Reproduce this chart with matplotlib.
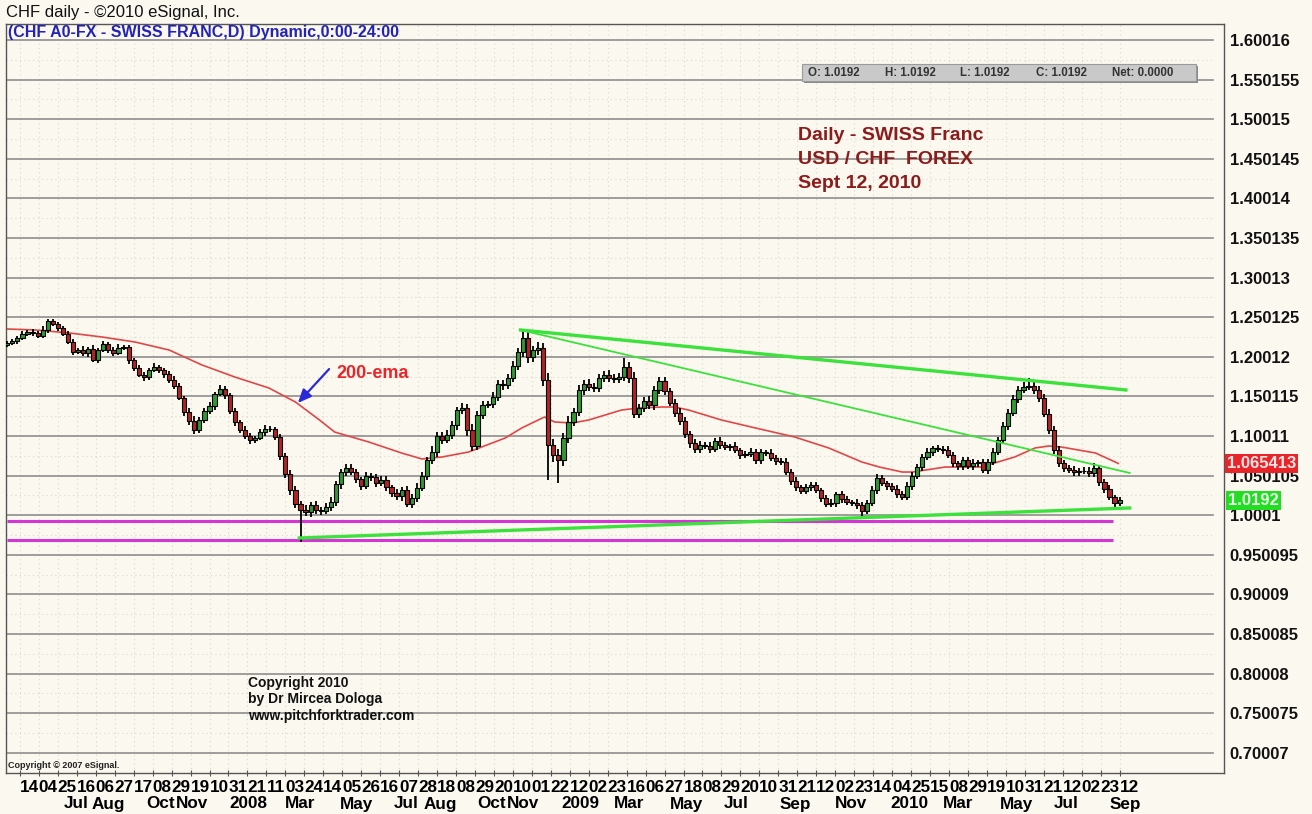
import numpy as np
import pandas as pd
import matplotlib
matplotlib.use('Agg')
import matplotlib.pyplot as plt
from matplotlib.patches import Rectangle

plt.rcParams['font.family'] = ['Liberation Sans', 'DejaVu Sans']

W, H = 1312, 814

# ------------------------------------------------------------------ data
origin = '2007-04-23'          # business-day origin of the x axis
first_candle = '2007-04-30'
candle_step = 4                # business days per candle
first_open = 1.2150

closes = [
    1.2175, 1.2201, 1.2239, 1.2289, 1.2314, 1.2302, 1.2264, 1.2340, 1.2453, 1.2415,
    1.2365, 1.2289, 1.2188, 1.2062, 1.2087, 1.2049, 1.2100, 1.1961, 1.2087, 1.2163,
    1.2087, 1.2049, 1.2112, 1.2125, 1.1961, 1.1860, 1.1771, 1.1746, 1.1834, 1.1872,
    1.1834, 1.1784, 1.1708, 1.1632, 1.1481, 1.1304, 1.1190, 1.1077, 1.1203, 1.1317,
    1.1380, 1.1531, 1.1594, 1.1519, 1.1317, 1.1178, 1.1077, 1.1001, 1.0950, 1.0976,
    1.1051, 1.1089, 1.1095, 1.0988, 1.0748, 1.0521, 1.0319, 1.0142, 1.0066, 1.0041,
    1.0129, 1.0066, 1.0054, 1.0104, 1.0167, 1.0395, 1.0546, 1.0597, 1.0546, 1.0458,
    1.0369, 1.0496, 1.0483, 1.0407, 1.0445, 1.0357, 1.0281, 1.0243, 1.0319, 1.0142,
    1.0218, 1.0344, 1.0496, 1.0698, 1.0799, 1.1001, 1.0950, 1.1014, 1.1140, 1.1329,
    1.1355, 1.1077, 1.0875, 1.1266, 1.1392, 1.1405, 1.1493, 1.1657, 1.1645, 1.1733,
    1.1885, 1.2062, 1.2239, 1.1999, 1.2087, 1.2112, 1.1708, 1.0887, 1.0761, 1.0698,
    1.0976, 1.1178, 1.1304, 1.1582, 1.1657, 1.1619, 1.1607, 1.1733, 1.1771, 1.1733,
    1.1721, 1.1746, 1.1872, 1.1733, 1.1279, 1.1355, 1.1443, 1.1392, 1.1582, 1.1695,
    1.1569, 1.1418, 1.1291, 1.1190, 1.1026, 1.0913, 1.0837, 1.0887, 1.0875, 1.0837,
    1.0938, 1.0887, 1.0862, 1.0870, 1.0824, 1.0761, 1.0774, 1.0799, 1.0698, 1.0799,
    1.0786, 1.0723, 1.0685, 1.0673, 1.0546, 1.0433, 1.0357, 1.0306, 1.0357, 1.0382,
    1.0319, 1.0218, 1.0142, 1.0155, 1.0268, 1.0205, 1.0167, 1.0155, 1.0129, 1.0054,
    1.0155, 1.0319, 1.0471, 1.0407, 1.0369, 1.0332, 1.0268, 1.0230, 1.0369, 1.0496,
    1.0609, 1.0736, 1.0799, 1.0849, 1.0840, 1.0824, 1.0761, 1.0660, 1.0622, 1.0698,
    1.0622, 1.0660, 1.0673, 1.0571, 1.0673, 1.0799, 1.0950, 1.1127, 1.1291, 1.1468,
    1.1582, 1.1619, 1.1632, 1.1582, 1.1481, 1.1279, 1.1077, 1.0824, 1.0660, 1.0597,
    1.0571, 1.0546, 1.0559, 1.0565, 1.0534, 1.0597, 1.0420, 1.0332, 1.0230, 1.0155,
    1.0192,
]

# upper / lower wick lengths in pips (0.0001)
wick_hi = [
    25, 30, 20, 35, 25, 40, 30, 45, 30, 25, 30, 20, 35, 40, 25, 50, 30, 45, 25, 40,
    30, 35, 45, 20, 30, 25, 40, 35, 30, 45, 25, 30, 35, 50, 40, 30, 45, 60, 35, 40,
    45, 30, 50, 35, 25, 40, 30, 45, 35, 30, 40, 55, 30, 25, 35, 40, 50, 45, 35, 60,
    40, 50, 35, 45, 60, 40, 35, 50, 45, 40, 30, 55, 40, 35, 45, 50, 30, 45, 40, 55,
    45, 60, 50, 40, 70, 55, 45, 60, 50, 40, 65, 55, 70, 45, 50, 40, 60, 55, 45, 50,
    60, 55, 101, 70, 50, 80, 60, 90, 70, 80, 60, 75, 55, 65, 50, 60, 45, 55, 50, 60,
    45, 50, 114, 60, 70, 55, 50, 60, 45, 55, 50, 40, 45, 60, 50, 40, 55, 45, 40, 50,
    35, 45, 40, 35, 50, 30, 40, 45, 35, 40, 30, 45, 35, 40, 50, 35, 45, 30, 40, 35,
    40, 30, 35, 45, 30, 40, 35, 30, 45, 40, 35, 50, 45, 40, 30, 35, 45, 40, 50, 45,
    40, 35, 45, 30, 40, 35, 45, 40, 30, 35, 40, 45, 30, 40, 35, 50, 40, 45, 55, 50,
    45, 60, 100, 50, 45, 55, 60, 50, 45, 40, 35, 45, 40, 50, 45, 60, 40, 35, 45, 30, 40,
]
wick_lo = [
    30, 25, 35, 20, 30, 35, 25, 30, 40, 25, 35, 30, 25, 40, 30, 35, 45, 30, 35, 25,
    35, 40, 30, 25, 45, 35, 30, 50, 35, 30, 40, 45, 35, 40, 30, 45, 50, 55, 40, 35,
    40, 45, 30, 50, 35, 45, 40, 35, 50, 40, 30, 45, 40, 35, 50, 45, 60, 55, 400, 50,
    60, 45, 55, 40, 50, 45, 60, 50, 40, 55, 45, 35, 50, 45, 40, 55, 45, 50, 60, 40,
    55, 45, 40, 50, 45, 60, 50, 40, 55, 65, 45, 70, 60, 50, 45, 40, 55, 50, 60, 45,
    50, 55, 60, 70, 65, 60, 75, 442, 90, 291, 70, 60, 55, 45, 60, 50, 55, 45, 50, 55,
    50, 45, 55, 60, 50, 45, 55, 50, 60, 45, 50, 40, 55, 45, 50, 60, 45, 50, 40, 55,
    40, 45, 35, 50, 40, 45, 35, 40, 50, 45, 35, 40, 45, 35, 40, 50, 45, 40, 35, 45,
    40, 45, 35, 40, 50, 45, 40, 35, 45, 76, 40, 35, 45, 40, 50, 35, 45, 40, 35, 45,
    40, 45, 35, 50, 40, 45, 40, 50, 45, 55, 40, 45, 50, 40, 45, 35, 40, 45, 50, 40,
    45, 40, 35, 45, 50, 40, 45, 55, 50, 45, 40, 50, 45, 40, 50, 45, 50, 45, 40, 51, 40,
]

# 200-ema (business-day index, value)
ema_bday = [5, 27, 54, 80, 106, 133, 159, 185, 212, 233, 252, 264, 291, 317, 333,
            349, 370, 399, 412, 430, 438, 452, 465, 491, 505, 523, 533, 544, 570,
            597, 628, 655, 681, 695, 713, 721, 747, 776, 786, 802, 818, 829, 839,
            866, 884]
ema_val = [1.2352, 1.2340, 1.2302, 1.2251, 1.2188, 1.2087, 1.1898, 1.1746, 1.1607,
           1.1430, 1.1203, 1.1051, 1.0925, 1.0786, 1.0711, 1.0736, 1.0799, 1.0976,
           1.1102, 1.1241, 1.1178, 1.1165, 1.1203, 1.1329, 1.1355, 1.1367, 1.1367,
           1.1329, 1.1203, 1.1102, 1.0988, 1.0849, 1.0673, 1.0609, 1.0546, 1.0546,
           1.0609, 1.0609, 1.0660, 1.0736, 1.0849, 1.0875, 1.0862, 1.0786, 1.065413]

# trend lines (business-day index, price)
upper_line_x = [411, 890]
upper_line_y = [1.2340, 1.1582]
inner_line_x = [411, 893]
inner_line_y = [1.2340, 1.0534]
lower_line_x = [236, 893]
lower_line_y = [0.9713, 1.0092]
support_levels = [0.9928, 0.9688]
support_end = 880

ytick_vals = [1.60016, 1.550155, 1.50015, 1.450145, 1.40014, 1.350135, 1.30013,
              1.250125, 1.20012, 1.150115, 1.10011, 1.050105, 1.0001, 0.950095,
              0.90009, 0.850085, 0.80008, 0.750075, 0.70007]
ytick_labels = ['1.60016', '1.550155', '1.50015', '1.450145', '1.40014', '1.350135',
                '1.30013', '1.250125', '1.20012', '1.150115', '1.10011', '1.050105',
                '1.0001', '0.950095', '0.90009', '0.850085', '0.80008', '0.750075',
                '0.70007']

day_first = '2007-05-14'
day_labels = ['14', '04', '25', '16', '06', '27', '17', '08', '29', '19', '10', '31',
              '21', '11', '03', '24', '14', '05', '26', '16', '07', '28', '18', '08',
              '29', '20', '10', '01', '22', '12', '02', '23', '16', '06', '27', '18',
              '08', '29', '20', '10', '31', '21', '12', '02', '23', '14', '04', '25',
              '15', '08', '29', '19', '10', '31', '21', '12', '02', '23', '12']
month_labels = ['Jul', 'Aug', 'Oct', 'Nov', '2008', 'Mar', 'May', 'Jul', 'Aug', 'Oct',
                'Nov', '2009', 'Mar', 'May', 'Jul', 'Sep', 'Nov', '2010', 'Mar', 'May',
                'Jul', 'Sep']
month_dates = ['2007-07-02', '2007-08-01', '2007-10-01', '2007-11-01', '2008-01-01',
               '2008-03-03', '2008-05-01', '2008-07-01', '2008-08-01', '2008-10-01',
               '2008-11-03', '2009-01-01', '2009-03-02', '2009-05-01', '2009-07-01',
               '2009-09-01', '2009-11-02', '2010-01-01', '2010-03-01', '2010-05-03',
               '2010-07-01', '2010-09-01']

last_ema = 1.065413
last_close = 1.0192

# ------------------------------------------------------------------ helpers
def bd(d):
    return int(np.busday_count(origin, np.datetime64(d, 'D')))

def fx(x):
    return x / W

def fy(y):
    return 1 - y / H

BG = '#fbf8ef'
fig = plt.figure(figsize=(W / 100, H / 100), dpi=100, facecolor=BG)
ax = fig.add_axes([fx(6), fy(773), fx(1224) - fx(6), fy(24) - fy(773)], facecolor=BG)
ax.set_xlim(4.0, 967.6)
ax.set_ylim(0.67453, 1.62036)

for s in ax.spines.values():
    s.set_color('#555555')
    s.set_linewidth(1.0)

# grid
day_dates = pd.date_range(day_first, periods=len(day_labels), freq='21D')
day_x = np.array([bd(d.strftime('%Y-%m-%d')) for d in day_dates])
xmax_frac = (1213 - 6) / (1224 - 6)
for v in ytick_vals:
    ax.axhline(v, xmin=0, xmax=xmax_frac, color='#8e8e8e', lw=1.2, zorder=1)
mids = [(a + b) / 2 for a, b in zip(ytick_vals[:-1], ytick_vals[1:])]
for v in mids:
    ax.axhline(v, xmin=0, xmax=xmax_frac, color='#dcd8cd', lw=0.8,
               linestyle=(0, (1, 3)), zorder=0)
ax.vlines(day_x, 0.67453, 1.62036, colors='#dcd8cd', linestyles=(0, (1, 3)),
          lw=0.8, zorder=0)

# support lines
for lv in support_levels:
    ax.plot([bd(first_candle), support_end], [lv, lv], color='#d535d5', lw=2.2,
            zorder=2, solid_capstyle='butt')

# ema
ax.plot(ema_bday, ema_val, color='#e04848', lw=1.2, zorder=2)

# candles
c = np.array(closes)
o = np.r_[first_open, c[:-1]]
hi = np.maximum(o, c) + np.array(wick_hi) * 1e-4
lo = np.minimum(o, c) - np.array(wick_lo) * 1e-4
x = bd(first_candle) + candle_step * np.arange(len(c))
up = c >= o
ax.vlines(x, lo, hi, color='black', lw=1.3, zorder=3)
ax.bar(x, c - o, bottom=o, width=3.3, color=np.where(up, '#2f9a2f', '#b52222'),
       edgecolor='black', linewidth=0.8, zorder=4)

# trend lines
ax.plot(upper_line_x, upper_line_y, color='#3ce23c', lw=2.4, zorder=5)
ax.plot(inner_line_x, inner_line_y, color='#3ce23c', lw=1.3, zorder=5)
ax.plot(lower_line_x, lower_line_y, color='#3ce23c', lw=2.4, zorder=5)

# y axis
ax.yaxis.tick_right()
ax.set_yticks(ytick_vals)
ax.set_yticklabels(ytick_labels, fontsize=12, fontweight='bold', color='#111111')
ax.tick_params(axis='y', length=0, pad=4)

# x axis
ax.set_xticks(day_x)
ax.tick_params(axis='x', length=4, direction='inout', color='#555555',
               labelbottom=False)
for xx, lab in zip(day_x, day_labels):
    ax.annotate(lab, xy=(xx, 0), xycoords=('data', 'axes fraction'),
                xytext=(0, -15), textcoords='offset pixels', ha='left',
                va='center', fontsize=12.3, fontweight='bold',
                annotation_clip=False)
for d, lab in zip(month_dates, month_labels):
    ax.annotate(lab, xy=(bd(d), 0), xycoords=('data', 'axes fraction'),
                xytext=(0, -31), textcoords='offset pixels', ha='left',
                va='center', fontsize=12.3, fontweight='bold',
                annotation_clip=False)

# value boxes on the price scale
ax.annotate(f'{last_ema:.6f}', xy=(1.0, last_ema), xycoords=('axes fraction', 'data'),
            xytext=(3, 0), textcoords='offset pixels', ha='left', va='center',
            fontsize=12, fontweight='bold', color='#ffe6e6',
            bbox=dict(boxstyle='square,pad=0.12', fc='#e8262a', ec='none'),
            annotation_clip=False, zorder=10)
ax.annotate(f'{last_close:.4f}', xy=(1.0, last_close), xycoords=('axes fraction', 'data'),
            xytext=(4, 0), textcoords='offset pixels', ha='left', va='center',
            fontsize=12, fontweight='bold', color='#eaffea',
            bbox=dict(boxstyle='square,pad=0.12', fc='#22dd22', ec='none'),
            annotation_clip=False, zorder=10)

# header texts
fig.text(fx(6), fy(12), 'CHF daily - \u00a92010 eSignal, Inc.', fontsize=12,
         va='center', ha='left', color='#111111')
fig.text(fx(8), fy(33), '(CHF A0-FX - SWISS FRANC,D) Dynamic,0:00-24:00',
         fontsize=11.5, fontweight='bold', va='center', ha='left', color='#2323b8')

# OHLC box
fig.patches.append(Rectangle((fx(804), fy(83)), (1198 - 804) / W, 17 / H,
                             transform=fig.transFigure, fc='#8a8a8a', ec='none',
                             zorder=5))
fig.patches.append(Rectangle((fx(802), fy(81)), (1196 - 802) / W, 17 / H,
                             transform=fig.transFigure, fc='#c9c9c9', ec='#9a9a9a',
                             lw=0.8, zorder=6))
ohlc = [('O:', 808), ('H:', 885), ('L:', 960), ('C:', 1036)]
for lab, xp in ohlc:
    fig.text(fx(xp), fy(72.5), f'{lab} {last_close:.4f}', fontsize=8.3,
             fontweight='bold', va='center', ha='left', color='#333333', zorder=7)
fig.text(fx(1112), fy(72.5), 'Net: 0.0000', fontsize=8.3, fontweight='bold',
         va='center', ha='left', color='#333333', zorder=7)

# red title block
for i, line in enumerate(['Daily - SWISS Franc', 'USD / CHF  FOREX', 'Sept 12, 2010']):
    fig.text(fx(798), fy(135 + 24 * i), line, fontsize=14, fontweight='bold',
             va='center', ha='left', color='#8b1c1c')

# 200-ema annotation
fig.text(fx(336), fy(373), '200-ema', fontsize=13, fontweight='bold', va='center',
         ha='left', color='#e8262a')
ax.annotate('', xy=(296, H - 405), xycoords='figure pixels',
            xytext=(331, H - 367), textcoords='figure pixels',
            arrowprops=dict(arrowstyle='-|>,head_length=0.8,head_width=0.35',
                            color='#2a2ad8', lw=1.6),
            annotation_clip=False)

# copyright texts
for i, line in enumerate(['Copyright 2010', 'by Dr Mircea Dologa',
                          'www.pitchforktrader.com']):
    fig.text(fx(248), fy(683 + 16.5 * i), line, fontsize=10, fontweight='bold',
             va='center', ha='left', color='#111111')
fig.text(fx(8), fy(766), 'Copyright \u00a9 2007 eSignal.', fontsize=6.5,
         fontweight='bold', va='center', ha='left', color='#222222')

fig.savefig('out.png', dpi=100, facecolor=BG)
